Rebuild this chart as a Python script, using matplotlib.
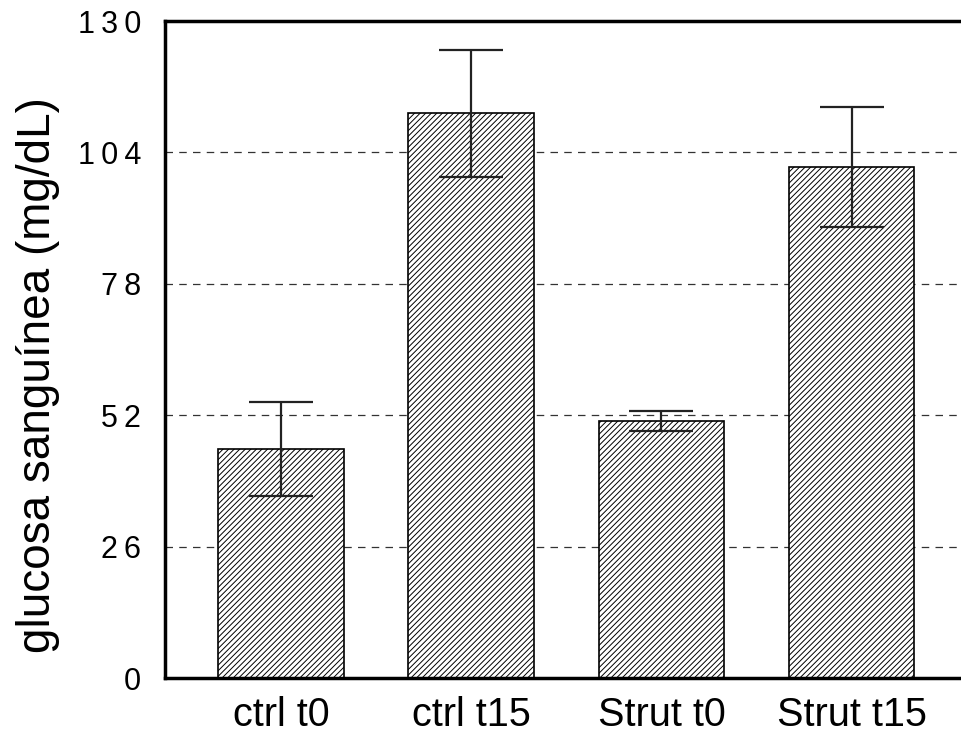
import matplotlib
matplotlib.use('Agg')
import matplotlib.pyplot as plt
from matplotlib.ticker import FuncFormatter
import numpy as np

# data
groups = ['ctrl t0', 'ctrl t15', 'Strut t0', 'Strut t15']
glucose = [45.3, 111.7, 50.9, 101.1]
error = [9.3, 12.6, 2.0, 11.9]
yticks = [0, 26, 52, 78, 104, 130]

plt.rcParams['font.family'] = ['Liberation Sans', 'DejaVu Sans']
plt.rcParams['hatch.linewidth'] = 0.7

fig = plt.figure(figsize=(9.62, 7.37), dpi=100)
ax = fig.add_axes([0.1715, 0.080, 0.8285, 0.8915])

x = np.arange(len(groups))
ax.bar(x, glucose, width=0.66, color='white', edgecolor='black',
       linewidth=1.2, hatch='//////', zorder=2)
ax.errorbar(x, glucose, yerr=error, fmt='none', ecolor='#222222',
            elinewidth=1.6, capsize=23, capthick=1.6, zorder=3)

ax.set_xlim(-0.61, 3.58)
ax.set_ylim(0, 130)
ax.set_yticks(yticks)
# wide digit spacing like the original
ax.yaxis.set_major_formatter(FuncFormatter(lambda v, p: '\u2009'.join(str(int(v)))))
ax.set_xticks(x)
ax.set_xticklabels(groups, fontsize=28.5)
ax.tick_params(axis='y', labelsize=22, length=0, pad=17)
ax.tick_params(axis='x', length=0, pad=13)

ax.yaxis.grid(True, linestyle=(0, (6, 5)), color='#333333', linewidth=0.9,
              zorder=1)
ax.set_axisbelow(True)

ax.spines['right'].set_visible(False)
for s in ['left', 'top', 'bottom']:
    ax.spines[s].set_linewidth(2.5)

ax.set_ylabel('glucosa sanguínea (mg/dL)', fontsize=33)
ax.yaxis.set_label_coords(-0.132, 0.461)

fig.savefig('out.png', dpi=100)
